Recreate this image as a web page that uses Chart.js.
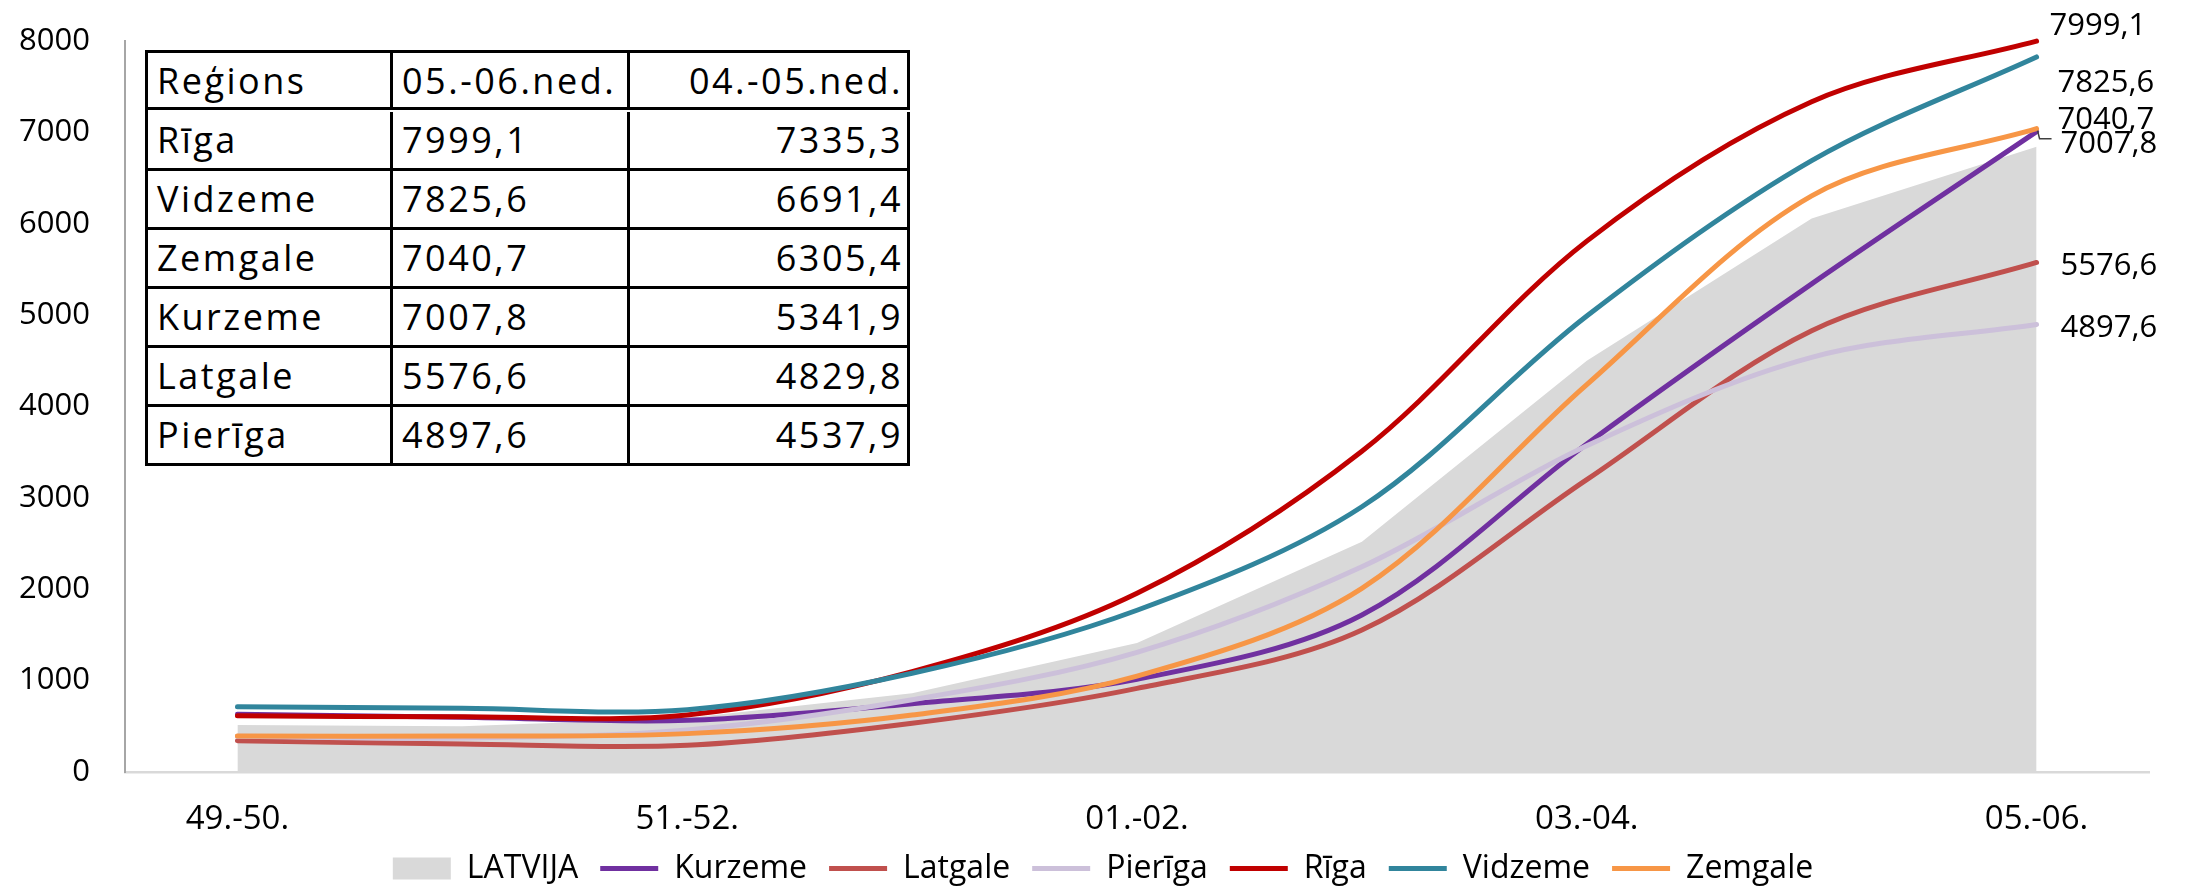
<!DOCTYPE html>
<html>
<head>
<meta charset="utf-8">
<script src="https://cdn.jsdelivr.net/npm/chart.js@4.4.1/dist/chart.umd.min.js"></script>
<style>
  html, body { margin: 0; padding: 0; background: #ffffff; }
  #wrap { position: relative; width: 2186px; height: 889px; overflow: hidden; }
  #c { display: block; }
  #tbl {
    position: absolute; left: 145px; top: 50px;
    display: grid;
    grid-template-columns: 245px 237px 280px;
    grid-auto-rows: 59px;
    border-left: 3px solid #000; border-top: 3px solid #000;
    font-family: 'Open Sans', sans-serif; font-size: 36px; letter-spacing: 2.5px;
    color: #000; background: #fff;
  }
  #tbl .cell {
    box-sizing: border-box;
    border-right: 3px solid #000; border-bottom: 3px solid #000;
    line-height: 36px; padding: 10px 4px 0 9px; white-space: nowrap; overflow: hidden;
  }
  #tbl .head { height: 57px; }
  #tbl .r { text-align: right; }
</style>
</head>
<body>
<div id="wrap">
  <canvas id="c" width="2186" height="889"></canvas>
  <div id="tbl"></div>
</div>
<script>
// ---- data ----
const categories = ['49.-50.', '50.-51.', '51.-52.', '52.-53.', '01.-02.', '02.-03.', '03.-04.', '04.-05.', '05.-06.'];
const latvija = [514, 500, 590, 861, 1412, 2520, 4500, 6058, 6842];
const kurzeme = [632, 598, 565, 748, 1015, 1718, 3590, 5341.9, 7007.8];
const latgale = [343, 306, 292, 533, 915, 1554, 3200, 4829.8, 5576.6];
const pieriga = [390, 372, 460, 790, 1310, 2246, 3570, 4537.9, 4897.6];
const riga    = [616, 605, 625, 1098, 1955, 3510, 5810, 7335.3, 7999.1];
const vidzeme = [714, 697, 682, 1080, 1770, 2903, 4990, 6691.4, 7825.6];
const zemgale = [394, 394, 420, 624, 1050, 2010, 4240, 6305.4, 7040.7];
const yTickValues = [0, 1000, 2000, 3000, 4000, 5000, 6000, 7000, 8000];
const tableHeader = ['Reģions', '05.-06.ned.', '04.-05.ned.'];

// ---- helpers ----
const FONT = "'Open Sans', sans-serif";
const fmt = v => v.toFixed(1).replace('.', ',');

const regions = [
  { name: 'Kurzeme', data: kurzeme, color: '#7030A0' },
  { name: 'Latgale', data: latgale, color: '#C0504D' },
  { name: 'Pierīga', data: pieriga, color: '#CCC0DA' },
  { name: 'Rīga',    data: riga,    color: '#C00000' },
  { name: 'Vidzeme', data: vidzeme, color: '#31859C' },
  { name: 'Zemgale', data: zemgale, color: '#F79646' }
];

// end-of-line label placement (style only)
const endLabelStyle = {
  'Rīga':    { dx: 13, dy: -6 },
  'Vidzeme': { dx: 21, dy: 35 },
  'Zemgale': { dx: 21, dy: 0 },
  'Kurzeme': { dx: 24, dy: 21, leader: true },
  'Latgale': { dx: 24, dy: 13 },
  'Pierīga': { dx: 24, dy: 13 }
};

// ---- table built from the series ----
(function buildTable() {
  const tbl = document.getElementById('tbl');
  const add = (txt, cls) => { const d = document.createElement('div'); d.className = 'cell ' + cls; d.textContent = txt; tbl.appendChild(d); };
  add(tableHeader[0], 'head');
  add(tableHeader[1], 'head');
  add(tableHeader[2], 'head r');
  const rows = regions.map(r => ({ name: r.name, cur: r.data[r.data.length - 1], prev: r.data[r.data.length - 2] }))
                      .sort((a, b) => b.cur - a.cur);
  rows.forEach(r => { add(r.name, ''); add(fmt(r.cur), ''); add(fmt(r.prev), 'r'); });
})();

// ---- datasets ----
const datasets = [{
  label: 'LATVIJA', type: 'line', data: latvija,
  backgroundColor: '#D9D9D9', borderColor: '#D9D9D9', borderWidth: 0,
  fill: 'origin', tension: 0, pointRadius: 0, pointStyle: 'rect', order: 10
}];
regions.forEach((r, i) => {
  datasets.push({
    label: r.name, type: 'line', data: r.data,
    borderColor: r.color, backgroundColor: r.color, borderWidth: 5,
    borderCapStyle: 'round', borderJoinStyle: 'round',
    fill: false, tension: 0.33, pointRadius: 0, pointStyle: 'line',
    order: 6 - i, clip: false
  });
});

const endLabels = {
  id: 'endLabels',
  afterDatasetsDraw(chart) {
    const ctx = chart.ctx;
    ctx.save();
    ctx.font = '31px ' + FONT;
    ctx.fillStyle = '#000';
    ctx.textAlign = 'left';
    ctx.textBaseline = 'alphabetic';
    chart.data.datasets.forEach((ds, i) => {
      const st = endLabelStyle[ds.label];
      if (!st) return;
      const meta = chart.getDatasetMeta(i);
      const pt = meta.data[meta.data.length - 1];
      const val = ds.data[ds.data.length - 1];
      ctx.fillText(fmt(val), pt.x + st.dx, pt.y + st.dy);
      if (st.leader) {
        ctx.strokeStyle = '#404040';
        ctx.lineWidth = 1.5;
        ctx.beginPath();
        ctx.moveTo(pt.x + 1, pt.y - 1);
        ctx.lineTo(pt.x + 3, pt.y + 7);
        ctx.lineTo(pt.x + 15, pt.y + 7);
        ctx.stroke();
      }
    });
    ctx.restore();
  }
};

// nudge the legend block to sit where the reference has it
const legendShift = {
  id: 'legendShift',
  afterLayout(chart) {
    if (chart.legend) chart.legend.left += 57;
  }
};

Chart.defaults.font.family = FONT;
Chart.defaults.color = '#000';

new Chart(document.getElementById('c'), {
  type: 'line',
  data: { labels: categories, datasets },
  plugins: [endLabels, legendShift],
  options: {
    responsive: false, animation: false, devicePixelRatio: 1,
    layout: { padding: { left: 0, right: 37, top: 41, bottom: -5.5 } },
    plugins: {
      tooltip: { enabled: false },
      legend: {
        position: 'bottom',
        labels: {
          usePointStyle: true, pointStyleWidth: 58, boxHeight: 22,
          padding: 22, color: '#000',
          font: { size: 32, family: FONT },
          sort: (a, b) => a.datasetIndex - b.datasetIndex
        }
      }
    },
    scales: {
      x: {
        type: 'category', offset: true,
        grid: { display: false, drawTicks: false },
        border: { display: true, color: '#D9D9D9', width: 2.5 },
        ticks: {
          autoSkip: false, maxRotation: 0, padding: 28, color: '#000',
          font: { size: 33, family: FONT },
          callback: (v, i) => (i % 2 === 0 ? categories[i] : '')
        },
        afterFit: s => { s.height = 58.5; }
      },
      y: {
        min: 0, max: 8000,
        afterBuildTicks: s => { s.ticks = yTickValues.map(v => ({ value: v })); },
        grid: { display: false, drawTicks: false },
        border: { display: true, color: '#A6A6A6', width: 2 },
        ticks: { padding: 35, color: '#000', font: { size: 31, family: FONT }, callback: v => String(v) },
        afterFit: s => { s.width = 125; s.paddingTop = 18; s.paddingBottom = 18; }
      }
    }
  }
});
</script>
</body>
</html>
